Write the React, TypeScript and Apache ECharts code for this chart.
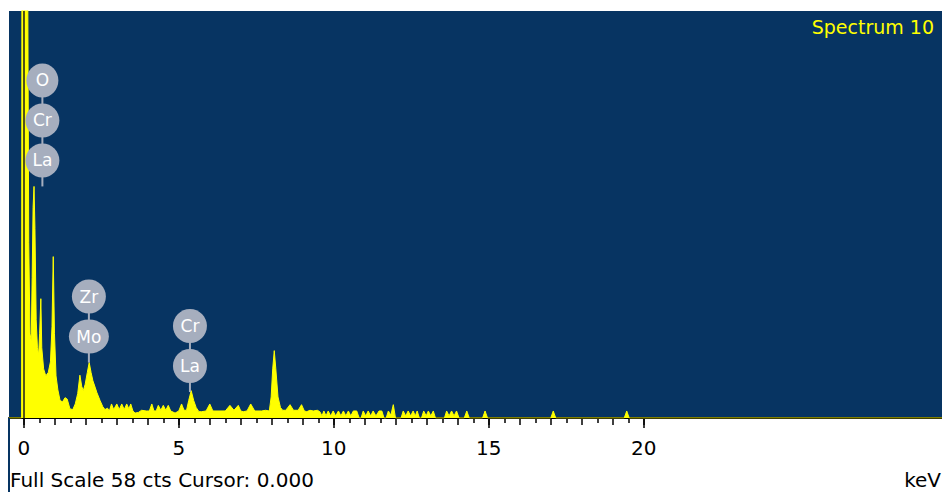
import { useEffect, useRef } from "react";
import * as echarts from "echarts";

// EDS spectrum: [keV, counts]
const spectrum: [number, number][] = [
  [-0.48, 0], [-0.07, 0], [-0.06, 70], [-0.025, 70], [0.0, 30], [0.035, 70], [0.12, 70], [0.16, 25],
  [0.2, 12], [0.24, 11], [0.27, 20], [0.3, 30], [0.33, 33], [0.36, 27], [0.4, 14], [0.44, 10],
  [0.48, 9], [0.51, 12], [0.55, 17], [0.58, 10], [0.64, 7], [0.71, 6], [0.79, 6.5], [0.86, 8],
  [0.91, 13], [0.95, 23], [0.99, 12], [1.04, 6], [1.1, 4], [1.17, 2.5],
  [1.25, 2.3], [1.33, 2.9], [1.4, 2.7], [1.49, 1.3], [1.58, 1.2], [1.66, 2], [1.74, 3.5], [1.81, 6.1],
  [1.87, 4.5], [1.92, 3.9], [1.98, 4.8], [2.05, 6.5], [2.11, 7.9], [2.17, 6.5], [2.23, 5.3], [2.3, 4.4],
  [2.36, 3.6], [2.46, 2.5], [2.55, 1.6], [2.62, 1.2], [2.7, 1.4],
  [2.76, 1], [2.83, 2], [2.9, 1.2], [3.0, 2], [3.08, 1.2], [3.16, 2], [3.24, 1.2], [3.32, 2],
  [3.39, 1.3], [3.45, 2], [3.52, 1], [3.59, 0.7], [3.7, 0.8], [3.8, 1.1], [3.95, 1], [4.05, 1],
  [4.13, 2], [4.2, 1], [4.27, 1], [4.34, 1.8], [4.42, 1.1], [4.5, 1.8], [4.58, 1.1], [4.66, 1.8],
  [4.74, 1], [4.88, 0.7], [5.0, 1], [5.09, 2], [5.17, 1.1], [5.25, 1.1], [5.32, 2.5], [5.4, 3.9],
  [5.48, 2.5], [5.56, 1.5], [5.65, 0.9], [5.74, 0.9], [5.88, 1], [6.0, 2], [6.1, 1], [6.33, 1],
  [6.5, 1], [6.65, 1.8], [6.78, 1.1], [6.92, 1.8], [7.0, 1], [7.08, 0.9], [7.2, 1], [7.32, 2],
  [7.45, 1], [7.67, 1], [7.8, 1.1], [7.92, 1], [7.98, 3], [8.03, 7], [8.08, 9.6], [8.13, 7],
  [8.2, 3], [8.28, 1.5], [8.35, 1.1], [8.45, 1.1], [8.59, 1.9], [8.7, 1.1], [8.85, 1.1], [8.96, 1.9],
  [9.05, 1], [9.13, 0.9], [9.23, 1.1], [9.34, 1], [9.47, 1.1], [9.55, 0.9],
  [9.62, 0.3], [9.68, 1], [9.75, 0.3], [9.82, 1], [9.9, 0.3], [9.98, 1], [10.06, 0.3], [10.15, 1],
  [10.23, 0.3], [10.31, 1], [10.39, 0.3], [10.47, 1], [10.55, 0.3], [10.63, 1], [10.74, 1], [10.82, 0],
  [10.88, 0], [10.95, 1], [11.03, 0.3], [11.11, 1], [11.19, 0.3], [11.27, 1], [11.36, 0.3], [11.46, 1],
  [11.55, 1], [11.62, 0], [11.69, 0], [11.76, 1], [11.84, 0.4], [11.92, 1.9], [11.99, 0], [12.17, 0],
  [12.24, 1], [12.32, 0.3], [12.4, 1], [12.48, 0.3], [12.56, 1], [12.63, 0.3], [12.69, 1], [12.76, 0],
  [12.83, 0], [12.9, 1], [12.98, 0.3], [13.05, 1], [13.13, 0.3], [13.21, 1], [13.28, 0], [13.57, 0],
  [13.64, 1], [13.72, 0.3], [13.8, 1], [13.88, 0.3], [13.96, 1], [14.04, 0], [14.21, 0], [14.29, 1],
  [14.37, 0], [14.8, 0], [14.88, 1], [14.96, 0], [17.0, 0], [17.08, 1], [17.16, 0], [19.37, 0],
  [19.45, 1], [19.53, 0], [29.62, 0],
];

// element label stacks (pinned at peak position)
const markerKeV = [0.6, 2.1, 5.36];
const markerCounts = [33, 7.9, 3.7];
const markerLabels = [["O", "Cr", "La"], ["Zr", "Mo"], ["Cr", "La"]];

const majorTicks = [0, 5, 10, 15, 20];
const integerTicks = [0, 1, 2, 3, 4, 5, 6, 7, 8, 9, 10, 11, 12, 13, 14, 15, 16, 17, 18, 19, 20];
const halfTicks = [0.5, 1.5, 2.5, 3.5, 4.5, 5.5, 6.5, 7.5, 8.5, 9.5, 10.5, 11.5, 12.5, 13.5, 14.5, 15.5, 16.5, 17.5, 18.5, 19.5];

const fullScale = 58;
const cursorKeV = 0;
const spectrumName = "Spectrum 10";
const footerText = "Full Scale 58 cts Cursor: 0.000";
const unitText = "keV";

const X_MIN = -0.477;
const X_MAX = 29.62;
const BG = "#073462";
const YELLOW = "#ffff00";
const BADGE = "#a6aebe";
const FONT = '"DejaVu Sans", "Liberation Sans", sans-serif';

export default function App() {
  const ref = useRef<HTMLDivElement>(null);
  useEffect(() => {
    document.body.style.margin = "0";
    if (!ref.current) return;
    const chart = echarts.init(ref.current, null, { renderer: "svg" });
    const baseAxis = {
      type: "value",
      min: X_MIN,
      max: X_MAX,
      position: "bottom",
      splitLine: { show: false },
    };
    chart.setOption({
      animation: false,
      grid: {
        show: true,
        left: 9,
        right: 0,
        top: 11,
        bottom: 74,
        backgroundColor: BG,
        borderWidth: 0,
      },
      xAxis: [
        {
          ...baseAxis,
          axisLine: { show: true, lineStyle: { color: "#000", width: 2 } },
          axisTick: { show: false },
          axisLabel: { show: false },
        },
        {
          ...baseAxis,
          axisLine: { show: false },
          axisTick: { show: true, customValues: halfTicks, length: 5, lineStyle: { color: "#000", width: 1.5 } },
          axisLabel: { show: false },
        },
        {
          ...baseAxis,
          axisLine: { show: false },
          axisTick: { show: true, customValues: integerTicks, length: 7, lineStyle: { color: "#000", width: 1.5 } },
          axisLabel: { show: false },
        },
        {
          ...baseAxis,
          axisLine: { show: false },
          axisTick: { show: true, customValues: majorTicks, length: 10, lineStyle: { color: "#000", width: 1.5 } },
          axisLabel: {
            show: true,
            customValues: majorTicks,
            margin: 20,
            color: "#000",
            fontSize: 20,
            fontFamily: FONT,
          },
        },
      ],
      yAxis: {
        type: "value",
        min: 0,
        max: fullScale,
        show: false,
      },
      series: [
        {
          type: "line",
          data: spectrum,
          xAxisIndex: 0,
          symbol: "none",
          clip: true,
          lineStyle: { color: YELLOW, width: 1 },
          itemStyle: { color: YELLOW },
          areaStyle: { color: YELLOW, opacity: 1 },
          markLine: {
            silent: true,
            symbol: ["none", "none"],
            label: { show: false },
            lineStyle: { color: "#1e1e1e", width: 1.5, type: "solid" },
            data: [{ xAxis: cursorKeV }],
          },
          z: 2,
        },
        {
          type: "custom",
          xAxisIndex: 0,
          data: markerKeV.map((k, i) => [k, markerCounts[i], i]),
          z: 5,
          renderItem: (params: any, api: any) => {
            const idx = api.value(2);
            const [px, py] = api.coord([api.value(0), api.value(1)]);
            const labels = markerLabels[idx];
            const first = 26;
            const gap = 40;
            const topCy = py - first - gap * (labels.length - 1);
            const children: any[] = [
              {
                type: "line",
                shape: { x1: px, y1: py, x2: px, y2: topCy },
                style: { stroke: BADGE, lineWidth: 2 },
              },
            ];
            labels.forEach((lab: string, i: number) => {
              const cy = py - first - gap * (labels.length - 1 - i);
              const rx = lab === "Mo" ? 20 : lab.length > 1 ? 17 : 16;
              children.push({
                type: "ellipse",
                shape: { cx: px, cy, rx, ry: 17 },
                style: { fill: BADGE },
              });
              children.push({
                type: "text",
                x: px,
                y: cy,
                style: {
                  text: lab,
                  fill: "#ffffff",
                  fontSize: 17,
                  fontFamily: FONT,
                  align: "center",
                  verticalAlign: "middle",
                },
              });
            });
            return { type: "group", children };
          },
        },
      ],
      graphic: [
        {
          type: "text",
          right: 8,
          top: 17,
          z: 100,
          style: { text: spectrumName, fill: YELLOW, fontSize: 19, fontFamily: FONT },
        },
        {
          type: "text",
          left: 10,
          top: 470,
          z: 100,
          style: { text: footerText, fill: "#000", fontSize: 20, fontFamily: FONT },
        },
        {
          type: "text",
          right: 1,
          top: 470,
          z: 100,
          style: { text: unitText, fill: "#000", fontSize: 20, fontFamily: FONT },
        },
        {
          type: "rect",
          z: 100,
          shape: { x: 8, y: 418, width: 2, height: 74 },
          style: { fill: BG },
        },
      ],
    });
    return () => chart.dispose();
  }, []);
  return <div ref={ref} style={{ width: 942, height: 492 }} />;
}
